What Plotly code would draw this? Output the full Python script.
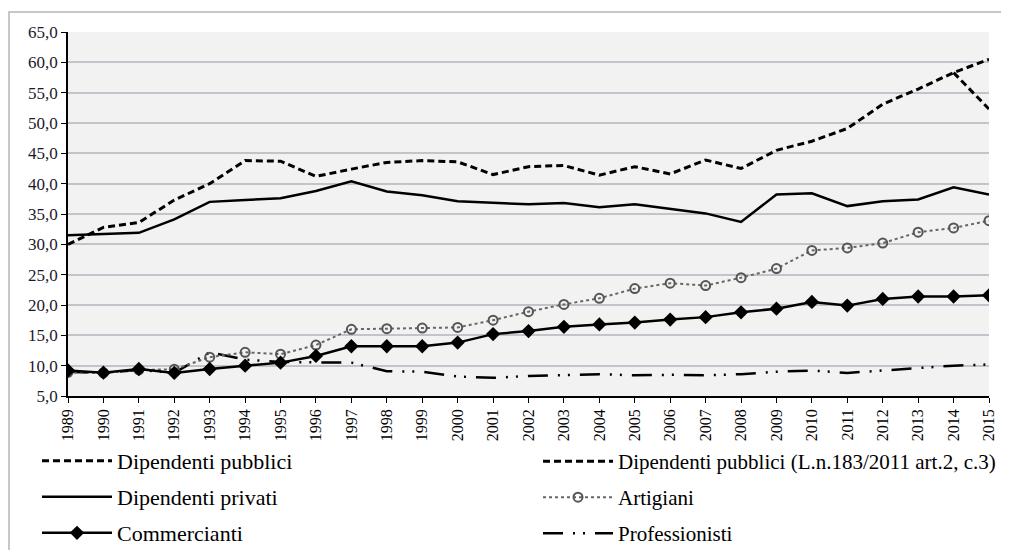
import plotly.graph_objects as go

years = list(range(1989, 2016))

dip_pubblici = [30.0, 32.8, 33.6, 37.3, 40.0, 43.8, 43.7, 41.2, 42.4, 43.5, 43.8, 43.6, 41.5,
                42.8, 43.0, 41.4, 42.8, 41.6, 43.9, 42.5, 45.5, 47.0, 49.1, 53.1, 55.6, 58.3, 60.5]
pub_years_183 = [2014, 2015]
dip_pubblici_183 = [58.3, 52.3]
dip_privati = [31.5, 31.7, 31.9, 34.1, 37.0, 37.3, 37.6, 38.8, 40.4, 38.7, 38.1, 37.1, 36.9,
               36.6, 36.8, 36.1, 36.6, 35.9, 35.1, 33.7, 38.2, 38.4, 36.3, 37.1, 37.4, 39.4, 38.2]
artigiani = [8.9, 8.8, 9.3, 9.4, 11.4, 12.2, 11.9, 13.4, 16.0, 16.1, 16.2, 16.3, 17.5,
             18.9, 20.1, 21.1, 22.7, 23.6, 23.2, 24.5, 26.0, 29.0, 29.4, 30.2, 32.0, 32.7, 33.9]
commercianti = [9.2, 8.85, 9.45, 8.8, 9.45, 10.0, 10.5, 11.6, 13.2, 13.2, 13.2, 13.8, 15.2,
                15.7, 16.4, 16.8, 17.1, 17.6, 18.0, 18.8, 19.4, 20.5, 19.9, 21.0, 21.4, 21.4, 21.6]
professionisti = [9.0, 8.8, 9.3, 8.8, 12.2, 11.0, 10.6, 10.6, 10.5, 9.1, 9.0, 8.2, 8.0,
                  8.3, 8.5, 8.6, 8.4, 8.5, 8.4, 8.6, 9.0, 9.2, 8.8, 9.2, 9.7, 10.0, 10.2]

y_ticks = [5, 10, 15, 20, 25, 30, 35, 40, 45, 50, 55, 60, 65]

FONT = "Liberation Serif, Times New Roman, serif"

fig = go.Figure()

fig.add_trace(go.Scatter(x=years, y=professionisti, mode="lines", name="Professionisti",
                         line=dict(color="black", width=2.5, dash="20px,10px,2px,8px,2px,10px"),
                         legend="legend2", legendgroup="f", legendrank=3))
fig.add_trace(go.Scatter(x=years, y=artigiani, mode="lines+markers", name="Artigiani",
                         line=dict(color="#666", width=2, dash="dot"),
                         marker=dict(symbol="circle-open", size=9, color="#555", line=dict(width=2)),
                         legend="legend2", legendgroup="e", legendrank=2))
fig.add_trace(go.Scatter(x=years, y=commercianti, mode="lines+markers", name="Commercianti",
                         line=dict(color="black", width=2.5),
                         marker=dict(symbol="diamond", size=11, color="black"),
                         legend="legend", legendgroup="c", legendrank=3))
fig.add_trace(go.Scatter(x=years, y=dip_privati, mode="lines", name="Dipendenti privati",
                         line=dict(color="black", width=2.5),
                         legend="legend", legendgroup="b", legendrank=2))
fig.add_trace(go.Scatter(x=pub_years_183, y=dip_pubblici_183, mode="lines",
                         name="Dipendenti pubblici (L.n.183/2011 art.2, c.3)",
                         line=dict(color="black", width=3, dash="7px,4px"),
                         legend="legend2", legendgroup="d", legendrank=1))
fig.add_trace(go.Scatter(x=years, y=dip_pubblici, mode="lines", name="Dipendenti pubblici",
                         line=dict(color="black", width=3, dash="7px,4px"),
                         legend="legend", legendgroup="a", legendrank=1))

# the page body adds an 8px offset; figure coordinates below are in figure pixels
W, H = 1001, 542
L, R, T, B = 60, 20, 24, 154
pw, ph = W - L - R, H - T - B


def px_x(p):
    return (p - L) / pw


def px_y(p):
    return (H - B - p) / ph


legend_common = dict(bgcolor="rgba(0,0,0,0)", orientation="v", xanchor="left", yanchor="top",
                     traceorder="grouped", itemwidth=70)

fig.update_layout(
    width=W, height=H,
    margin=dict(l=L, r=R, t=T, b=B, autoexpand=False),
    paper_bgcolor="white",
    plot_bgcolor="#f2f2f2",
    separators=",.",
    font=dict(family=FONT, color="black"),
    legend=dict(x=px_x(29), y=px_y(432), font=dict(family=FONT, size=22, color="black"),
                tracegroupgap=4.4, **legend_common),
    legend2=dict(x=px_x(530), y=px_y(433), font=dict(family=FONT, size=21, color="black"),
                 tracegroupgap=5.7, **legend_common),
    xaxis=dict(range=[1989, 2015], tickmode="array", tickvals=years, ticktext=[str(y) for y in years],
               tickangle=-90, tickfont=dict(family=FONT, size=16, color="black"),
               showgrid=False, zeroline=False, showline=True, linecolor="black", linewidth=1.5,
               ticks="outside", ticklen=5, tickcolor="black"),
    yaxis=dict(range=[5, 65], tickmode="array", tickvals=y_ticks, tickformat=".1f",
               tickfont=dict(family=FONT, size=17, color="#1a1a2a"),
               showgrid=True, gridcolor="#c2c4cc", gridwidth=1.5,
               zeroline=False, showline=True, linecolor="black", linewidth=1.5,
               ticks="outside", ticklen=5, tickcolor="black"),
    shapes=[dict(type="rect", xref="paper", yref="paper",
                 x0=px_x(1), x1=px_x(1040), y0=px_y(4), y1=px_y(600),
                 line=dict(color="#c8c8c8", width=2), fillcolor="rgba(0,0,0,0)", layer="below")],
    showlegend=True,
)

fig.write_html("out.html")
